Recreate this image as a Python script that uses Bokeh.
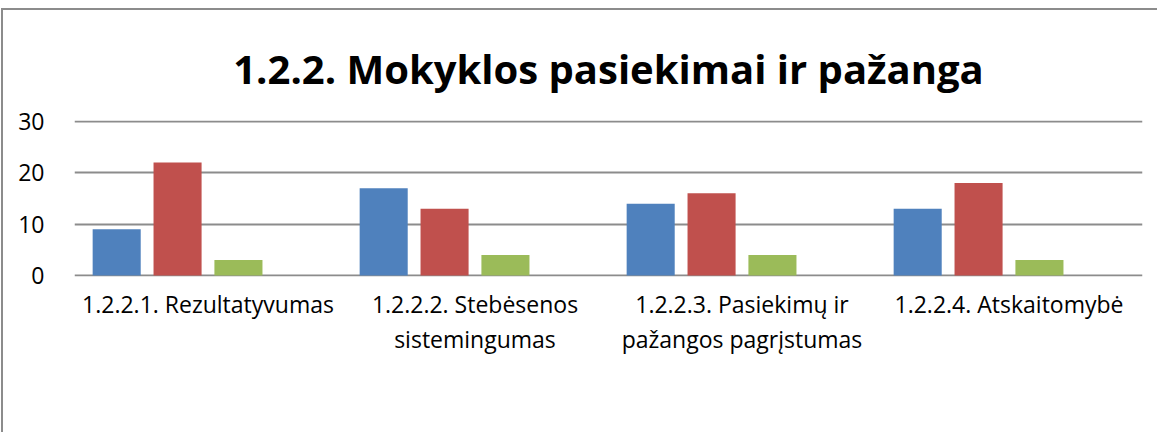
from bokeh.plotting import figure
from bokeh.models import (Range1d, Legend, LegendItem, ColumnDataSource,
                          FixedTicker, LinearAxis)
from bokeh.transform import dodge
from bokeh.embed import file_html
from bokeh.resources import INLINE

title = "1.2.2. Mokyklos pasiekimai ir pažanga"
categories = ["1.2.2.1. Rezultatyvumas",
              "1.2.2.2. Stebėsenos sistemingumas",
              "1.2.2.3. Pasiekimų ir pažangos pagrįstumas",
              "1.2.2.4. Atskaitomybė"]
label_line1 = ["1.2.2.1. Rezultatyvumas", "1.2.2.2. Stebėsenos",
               "1.2.2.3. Pasiekimų ir", "1.2.2.4. Atskaitomybė"]
label_line2 = ["", "sistemingumas", "pažangos pagrįstumas", ""]
series = ["4", "3", "2", "1"]
s4 = [9, 17, 14, 13]
s3 = [22, 13, 16, 18]
s2 = [3, 4, 4, 3]
s1 = [0, 0, 0, 0]
colors = ["#4F81BD", "#C0504D", "#9BBB59", "#8064A2"]
y_ticks = [0, 10, 20, 30]

FONT = "Open Sans"

xpos = [i + 0.5 for i in range(len(categories))]
source = ColumnDataSource(dict(x=xpos, s4=s4, s3=s3, s2=s2, s1=s1))

p = figure(frame_width=1068, frame_height=156,
           x_range=Range1d(0, len(categories)), y_range=Range1d(-0.2, 30.2),
           output_backend="svg", toolbar_location=None, x_axis_location=None,
           min_border_left=71, min_border_right=15, min_border_top=110, min_border_bottom=10)
p.styles = {"border-left": "2px solid #8c8c8c", "border-top": "2px solid #8c8c8c",
            "margin-left": "1px", "margin-top": "8px"}

p.title.text = title
p.title.align = "center"
p.title.text_font = FONT
p.title.text_font_style = "bold"
p.title.text_font_size = "40px"
p.title.text_color = "#000000"
p.title.standoff = 50
p.title.offset = -15

p.outline_line_color = None
p.xgrid.grid_line_color = None
p.ygrid.grid_line_color = "#8c8c8c"
p.ygrid.grid_line_width = 2
p.yaxis.ticker = FixedTicker(ticks=y_ticks)

ax1 = LinearAxis(ticker=FixedTicker(ticks=xpos),
                 major_label_overrides={x: t for x, t in zip(xpos, label_line1)})
ax2 = LinearAxis(ticker=FixedTicker(ticks=xpos),
                 major_label_overrides={x: t for x, t in zip(xpos, label_line2)})
p.add_layout(ax1, "below")
p.add_layout(ax2, "below")

for ax in (ax1, ax2, p.yaxis[0]):
    ax.axis_line_color = None
    ax.major_tick_line_color = None
    ax.minor_tick_line_color = None
    ax.major_label_text_font = FONT
    ax.major_label_text_font_size = "23px"
    ax.major_label_text_color = "#000000"

p.yaxis.major_label_standoff = 24
ax1.major_label_standoff = 5
ax2.major_label_standoff = -6

cols = ["s4", "s3", "s2", "s1"]
step = 0.228
items = []
for i, (col, name, color) in enumerate(zip(cols, series, colors)):
    r = p.vbar(x=dodge("x", (i - 1.5) * step), top=col, width=0.18,
               source=source, fill_color=color, line_color=None)
    items.append(LegendItem(label=name, renderers=[r]))

legend = Legend(items=items, orientation="horizontal", location="center",
                glyph_width=15, glyph_height=15, label_standoff=5, spacing=17,
                label_text_font=FONT, label_text_font_size="20px",
                border_line_color=None, background_fill_alpha=0, margin=25, padding=0)
p.add_layout(legend, "below")

open("out.html", "w").write(file_html(p, INLINE))
